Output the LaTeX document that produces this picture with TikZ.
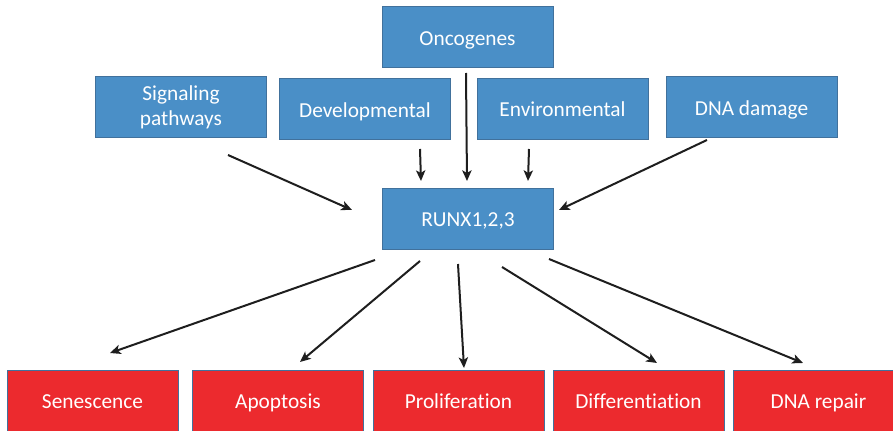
\documentclass[tikz,border=0pt]{standalone}
\usepackage{fontspec}
\setmainfont{Carlito}[Ligatures=NoCommon]
\usetikzlibrary{positioning, arrows.meta}
\definecolor{boxblue}{HTML}{4A8FC7}
\definecolor{boxedge}{HTML}{41719C}
\definecolor{boxred}{HTML}{EC2A2E}
\definecolor{arrowink}{HTML}{1E1E1E}

\begin{document}
\begin{tikzpicture}[x=0.75pt, y=-0.75pt, line width=0.75pt,
    plainbox/.style={draw=boxedge, fill=boxblue, text=white, minimum width=128.25pt,
                  minimum height=45.75pt, inner sep=2pt, align=center,
                  font=\fontsize{16}{19}\selectfont},
    cause/.style={plainbox, text height=11.5pt, text depth=0pt},
    effect/.style={cause, fill=boxred, minimum height=46.5pt},
    link/.style={draw=arrowink, line width=1.5pt, -{Stealth[length=8pt, width=7pt, inset=2pt]}}]
    \useasboundingbox (0,0) rectangle (893,431);

    \node[cause] (onco) at (467.5,37.5) {Oncogenes};
    \node[plainbox] (sig) at (181,107) {Signaling\\pathways};
    \node[cause] (dev) at (365,109.5) {Developmental};
    \node[cause] (env) at (562.5,109) {Environmental};
    \node[cause] (dmg) at (751.5,107.5) {DNA damage};
    \node[cause] (runx) at (468,219) {RUNX1,2,3};

    \node[effect] (sen) at (92.5,401) {Senescence};
    \node[effect] (apo) at (278,401) {Apoptosis};
    \node[effect] (pro) at (458.5,401) {Proliferation};
    \node[effect] (dif) at (638.5,401) {Differentiation};
    \node[effect] (rep) at (818.5,401) {DNA repair};

    % loose arrow ends
    \coordinate (sig-a) at (228,155);  \coordinate (sig-b) at (352,210);
    \coordinate (dev-a) at (420,149);  \coordinate (dev-b) at (421,181);
    \coordinate (onco-a) at (466,73);  \coordinate (onco-b) at (467,181);
    \coordinate (env-a) at (529,149);  \coordinate (env-b) at (528,181);
    \coordinate (dmg-a) at (707,140);  \coordinate (dmg-b) at (559,210);
    \coordinate (sen-a) at (375,260);  \coordinate (sen-b) at (110,353);
    \coordinate (apo-a) at (420,261);  \coordinate (apo-b) at (300,362);
    \coordinate (pro-a) at (458,264);  \coordinate (pro-b) at (464,368);
    \coordinate (dif-a) at (502,267);  \coordinate (dif-b) at (657,363);
    \coordinate (rep-a) at (549,259);  \coordinate (rep-b) at (803,363);

    \draw[link] (sig-a) -- (sig-b);
    \draw[link] (dev-a) -- (dev-b);
    \draw[link] (onco-a) -- (onco-b);
    \draw[link] (env-a) -- (env-b);
    \draw[link] (dmg-a) -- (dmg-b);
    \draw[link] (sen-a) -- (sen-b);
    \draw[link] (apo-a) -- (apo-b);
    \draw[link] (pro-a) -- (pro-b);
    \draw[link] (dif-a) -- (dif-b);
    \draw[link] (rep-a) -- (rep-b);
\end{tikzpicture}
\end{document}
